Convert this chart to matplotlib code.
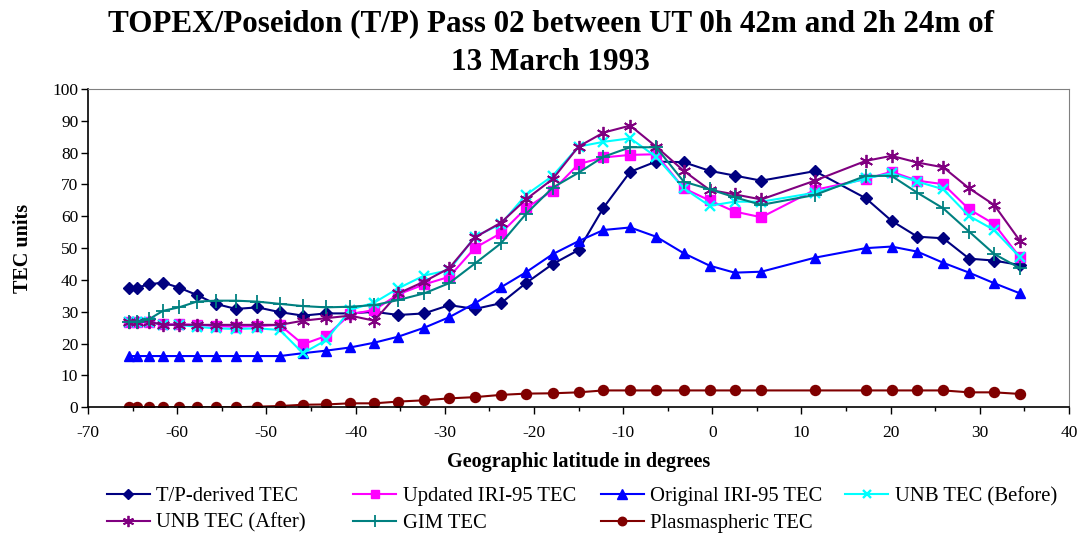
import numpy as np
import matplotlib
matplotlib.use("Agg")
import matplotlib.pyplot as plt
from matplotlib.ticker import MultipleLocator

plt.rcParams['font.family'] = ['Liberation Serif', 'DejaVu Serif']
plt.rcParams['axes.unicode_minus'] = False

# latitude of each T/P sample (deg)
lat = [-65.4, -64.5, -63.2, -61.6, -59.8, -57.8, -55.7, -53.4, -51.0, -48.5,
       -45.9, -43.3, -40.6, -37.9, -35.2, -32.3, -29.5, -26.6, -23.7, -20.9,
       -17.9, -15.0, -12.2, -9.2, -6.3, -3.2, -0.3, 2.5, 5.5, 11.5,
       17.2, 20.1, 23.0, 25.9, 28.8, 31.6, 34.5]

tp_tec = [37.6, 37.6, 38.6, 39.2, 37.6, 35.3, 32.5, 30.9, 31.4, 29.9,
          28.8, 29.5, 29.5, 30.0, 29.0, 29.5, 32.1, 30.9, 32.7, 39.0,
          45.0, 49.4, 62.7, 74.0, 77.2, 77.0, 74.3, 72.8, 71.2, 74.2,
          65.7, 58.6, 53.6, 53.1, 46.7, 46.1, 44.7]

iri_updated = [26.9, 26.9, 26.9, 26.1, 26.1, 25.9, 25.5, 25.3, 25.5, 25.9,
               19.8, 22.4, 29.2, 30.6, 35.5, 38.6, 41.0, 50.1, 54.7, 62.5,
               68.1, 76.4, 78.5, 79.3, 79.5, 68.8, 65.0, 61.5, 59.7, 68.3,
               71.7, 74.0, 71.2, 70.1, 62.2, 57.6, 47.1]

iri_original = [16.1, 16.1, 16.1, 16.1, 16.1, 16.1, 16.1, 16.1, 16.1, 16.1,
                17.0, 17.8, 18.8, 20.3, 22.2, 25.0, 28.3, 32.7, 37.7, 42.4,
                48.1, 52.2, 55.7, 56.5, 53.6, 48.4, 44.5, 42.3, 42.6, 47.0,
                50.0, 50.5, 48.9, 45.4, 42.3, 39.0, 35.8]

unb_before = [26.9, 26.9, 26.9, 25.9, 25.9, 25.3, 24.8, 24.6, 24.8, 24.3,
              17.0, 21.1, 30.6, 32.9, 37.4, 41.4, 43.1, 53.6, 57.6, 66.7,
              72.7, 81.9, 83.4, 84.5, 78.7, 68.8, 63.3, 64.6, 64.6, 67.4,
              71.9, 73.5, 70.9, 68.5, 60.1, 55.7, 47.1]

unb_after = [26.9, 26.9, 26.9, 25.9, 25.9, 25.9, 25.9, 25.9, 25.9, 25.9,
             27.2, 28.0, 28.8, 27.2, 35.8, 39.5, 43.7, 53.4, 58.0, 65.3,
             71.7, 81.9, 86.3, 88.5, 81.9, 74.3, 68.3, 66.9, 65.3, 71.2,
             77.4, 79.0, 76.9, 75.4, 68.8, 63.6, 52.3]

gim_tec = [26.9, 26.9, 27.6, 30.3, 31.4, 33.2, 33.5, 33.5, 33.2, 32.5,
           31.8, 31.4, 31.6, 32.1, 33.7, 35.8, 39.0, 45.2, 51.5, 60.7,
           69.0, 73.7, 78.7, 81.7, 81.7, 70.9, 68.5, 66.0, 63.6, 66.7,
           72.7, 72.7, 67.4, 62.5, 55.2, 48.2, 43.7]

plasma_tec = [0.0, 0.0, 0.0, 0.0, 0.0, 0.0, 0.0, 0.0, 0.2, 0.4,
              0.8, 0.9, 1.25, 1.25, 1.8, 2.2, 2.8, 3.2, 3.9, 4.3,
              4.4, 4.7, 5.3, 5.3, 5.3, 5.3, 5.3, 5.3, 5.3, 5.3,
              5.3, 5.3, 5.3, 5.3, 4.7, 4.7, 4.2]

fig = plt.figure(figsize=(10.84, 5.35), dpi=100)
ax = fig.add_axes([88 / 1084, 1 - 407.3 / 535, (1069 - 88) / 1084, (407.3 - 89) / 535])

lw = 1.5
h_tp, = ax.plot(lat, tp_tec, color='#000080', marker='D', ms=6, lw=lw, label='T/P-derived TEC')
h_up, = ax.plot(lat, iri_updated, color='#FF00FF', marker='s', ms=7.2, lw=lw, label='Updated IRI-95 TEC')
h_or, = ax.plot(lat, iri_original, color='#0000FF', marker='^', ms=7.8, lw=lw, label='Original IRI-95 TEC')
h_bf, = ax.plot(lat, unb_before, color='#00FFFF', marker='x', ms=7.5, mew=1.7, lw=lw, label='UNB TEC (Before)')
h_af, = ax.plot(lat, unb_after, color='#800080', marker=(6, 2, 0), ms=9.5, mew=1.3, lw=lw, label='UNB TEC (After)')
h_gim, = ax.plot(lat, gim_tec, color='#008080', marker='+', ms=9.5, mew=1.3, lw=lw, label='GIM TEC')
h_pl, = ax.plot(lat, plasma_tec, color='#800000', marker='o', ms=7.2, lw=lw, label='Plasmaspheric TEC')

ax.set_xlim(-70, 40)
ax.set_ylim(0, 100)
ax.xaxis.set_major_locator(MultipleLocator(10))
ax.xaxis.set_minor_locator(MultipleLocator(5))
ax.yaxis.set_major_locator(MultipleLocator(10))
ax.tick_params(axis='both', which='major', direction='out', length=5, width=1,
               labelsize=12.5, color='black', pad=2)
ax.tick_params(axis='x', which='minor', direction='out', length=3, width=1)
ax.tick_params(axis='x', pad=8)

for side in ['top', 'right']:
    ax.spines[side].set_color('#808080')
for side in ['left', 'bottom']:
    ax.spines[side].set_color('black')
    ax.spines[side].set_linewidth(1.2)

ax.set_xlabel('Geographic latitude in degrees', fontsize=14.5, fontweight='bold', labelpad=8)
ax.set_ylabel('TEC units', fontsize=14.5, fontweight='bold', labelpad=14)

fig.text(0.508, 1 - 24 / 535, 'TOPEX/Poseidon (T/P) Pass 02 between UT 0h 42m and 2h 24m of',
         ha='center', va='center', fontsize=22.4, fontweight='bold')
fig.text(0.508, 1 - 62 / 535, '13 March 1993',
         ha='center', va='center', fontsize=22.4, fontweight='bold')

# legend columns placed like the Excel legend
columns = [([h_tp, h_af], 106.7), ([h_up, h_gim], 353), ([h_or, h_pl], 600.7), ([h_bf], 845)]
for handles, x0 in columns:
    fig.legend(handles=handles, loc='upper left', bbox_to_anchor=(x0 / 1084, 1 - 487 / 535),
               frameon=False, fontsize=14.9, handlelength=2.1, handletextpad=0.3,
               borderpad=0, borderaxespad=0, labelspacing=0.33, markerscale=0.85)

fig.savefig('out.png', dpi=100)
